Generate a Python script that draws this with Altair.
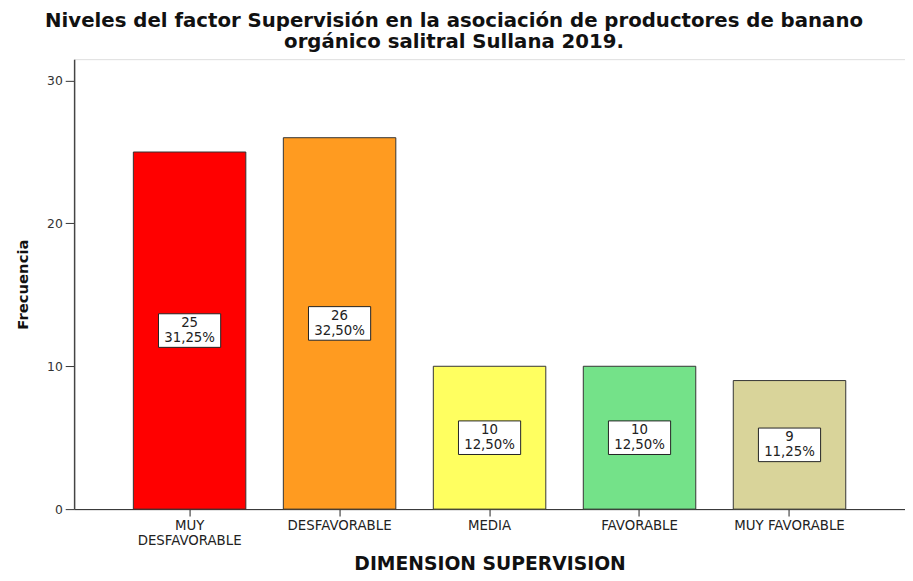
import altair as alt
import pandas as pd

categories = ["MUY DESFAVORABLE", "DESFAVORABLE", "MEDIA", "FAVORABLE", "MUY FAVORABLE"]
counts = [25, 26, 10, 10, 9]
percents = ["31,25%", "32,50%", "12,50%", "12,50%", "11,25%"]
colors = ["#FF0000", "#FF9B20", "#FFFF60", "#74E289", "#D9D49A"]

df = pd.DataFrame({
    "cat": categories,
    "count": counts,
    "pct": percents,
    "color": colors,
})
df["half"] = df["count"] / 2
df["label"] = df["count"].astype(str) + "\n" + df["pct"]

label_expr = "datum.value == 'MUY DESFAVORABLE' ? ['MUY', 'DESFAVORABLE'] : datum.value"

FONT = "DejaVu Sans"

x = alt.X(
    "cat:N",
    sort=categories,
    scale=alt.Scale(paddingInner=0.25, paddingOuter=0.395),
    axis=alt.Axis(
        title="DIMENSION SUPERVISION",
        labelAngle=0,
        labelExpr=label_expr,
        labelFont=FONT,
        labelFontSize=13.5,
        labelColor="#222222",
        labelPadding=3,
        labelLineHeight=15,
        tickColor="#222222",
        tickSize=7,
        domainColor="#222222",
        titleFont=FONT,
        titleFontSize=19,
        titleFontWeight="bold",
        titleColor="#111111",
        titlePadding=8,
    ),
)

y_scale = alt.Scale(domain=[0, 31.5], nice=False)

bars = alt.Chart(df).mark_bar(stroke="#333333", strokeWidth=1).encode(
    x=x,
    y=alt.Y(
        "count:Q",
        scale=y_scale,
        axis=alt.Axis(
            title="Frecuencia",
            values=[0, 10, 20, 30],
            grid=False,
            labelFont=FONT,
            labelFontSize=12.5,
            labelColor="#333333",
            labelPadding=3,
            tickColor="#333333",
            tickSize=9,
            domainColor="#444444",
            domainWidth=1.5,
            titleFont=FONT,
            titleFontSize=15,
            titleFontWeight="bold",
            titleColor="#111111",
            titlePadding=16,
        ),
    ),
    color=alt.Color("color:N", scale=None, legend=None),
)

boxes = alt.Chart(df).mark_point(
    shape="M-1,-0.54L1,-0.54L1,0.54L-1,0.54Z",
    filled=True,
    fill="white",
    stroke="#222222",
    strokeWidth=1,
    opacity=1,
    size=3969,
).encode(
    x=alt.X("cat:N", sort=categories),
    y=alt.Y("half:Q", scale=y_scale),
)

texts = alt.Chart(df).mark_text(
    lineBreak="\n",
    font=FONT,
    fontSize=13.5,
    lineHeight=15,
    color="#222222",
    baseline="middle",
    align="center",
    dy=-7.5,
).encode(
    x=alt.X("cat:N", sort=categories),
    y=alt.Y("half:Q", scale=y_scale),
    text="label:N",
)

chart = alt.layer(bars, boxes, texts).properties(
    width=842,
    height=456,
    autosize=alt.AutoSizeParams(type="none"),
    padding={"left": 67, "top": 48, "right": 0, "bottom": 69},
    title=alt.TitleParams(
        text=["Niveles del factor Supervisión en la asociación de productores de banano",
              "orgánico salitral Sullana 2019."],
        font=FONT,
        fontSize=20,
        fontWeight="bold",
        color="#111111",
        anchor="middle",
        dx=-36,
        offset=7,
        lineHeight=22,
    ),
).configure_view(
    fill="#F7F7F7",
    stroke="#888888",
    strokeWidth=2,
).configure(background="white")

chart.save("out.html", embed_options={"renderer": "svg", "actions": False})
